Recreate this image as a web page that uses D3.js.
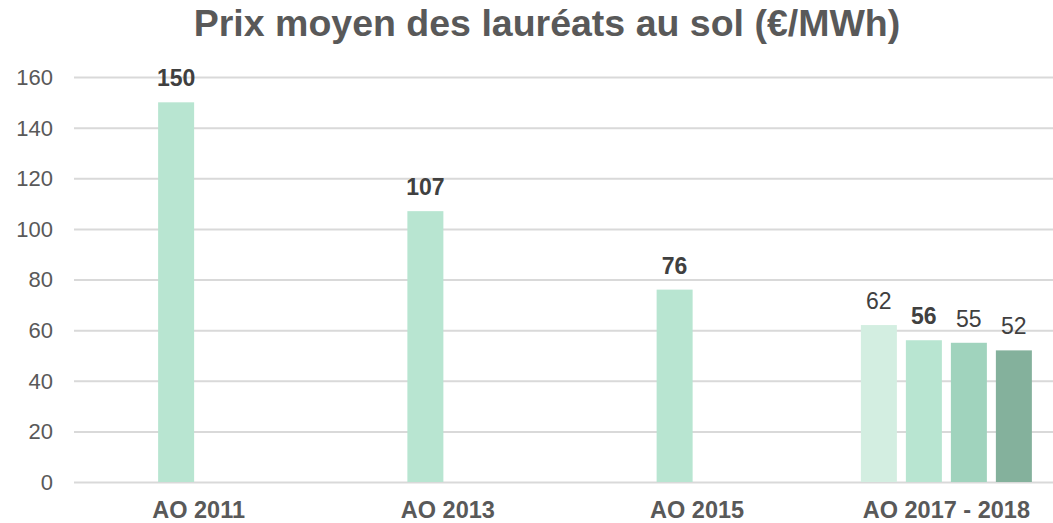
<!DOCTYPE html>
<meta charset="utf-8">
<style>
    body {
        margin: 0;
        background: #fff;
    }
    svg {
        display: block;
        overflow: hidden;
        font-family: "Liberation Sans", Arial, sans-serif;
    }
    .grid line {
        stroke: #d9d9d9;
        stroke-width: 2px;
    }
    .grid path {
        display: none;
    }
</style>
<body>
<script src="https://d3js.org/d3.v7.min.js"></script>
<script>
    const title = "Prix moyen des lauréats au sol (€/MWh)";

    const categories = ["AO 2011", "AO 2013", "AO 2015", "AO 2017 - 2018"];
    const seriesNames = ["s1", "s2", "s3", "s4"];

    // one value per category for each series (null = no bar)
    const s1 = [null, null, null, 62];
    const s2 = [150, 107, 76, 56];
    const s3 = [null, null, null, 55];
    const s4 = [null, null, null, 52];

    const seriesColors = ["#d3eee1", "#b8e5d1", "#a0d3bd", "#84b19c"];
    const seriesBold = [false, true, false, false];

    const yTicks = [0, 20, 40, 60, 80, 100, 120, 140, 160];

    const width = 1053,
        height = 523;

    const allSeries = [s1, s2, s3, s4];
    const bars = [];
    allSeries.forEach((vals, si) => {
        vals.forEach((v, ci) => {
            if (v !== null) bars.push({cat: categories[ci], s: seriesNames[si], si, value: v});
        });
    });

    const svg = d3.select("body")
        .append("svg")
        .attr("width", width)
        .attr("height", height);

    // plot area runs a bit past the right edge (cropped, like the original)
    const x0 = d3.scaleBand()
        .domain(categories)
        .range([74, 1071]);

    const x1 = d3.scaleBand()
        .domain(seriesNames)
        .range([0, 180])
        .paddingInner(0.2)
        .paddingOuter(0.1);

    const y = d3.scaleLinear()
        .domain([0, 160])
        .range([482, 77]);

    // gridlines
    svg.append("g")
        .attr("class", "grid")
        .attr("transform", "translate(74,0)")
        .call(d3.axisLeft(y).tickValues(yTicks).tickSize(-1000).tickFormat(""));

    // y tick labels
    svg.append("g")
        .selectAll("text")
        .data(yTicks)
        .join("text")
        .attr("x", 53)
        .attr("y", d => y(d))
        .attr("dy", "0.36em")
        .attr("text-anchor", "end")
        .attr("fill", "#595959")
        .style("font-size", "22px")
        .text(d => d);

    const groupX = d => x0(d.cat) + x0.bandwidth() / 2 - 90 + x1(d.s);

    svg.append("g")
        .selectAll("rect")
        .data(bars)
        .join("rect")
        .attr("x", groupX)
        .attr("width", x1.bandwidth())
        .attr("y", d => y(d.value))
        .attr("height", d => y(0) - y(d.value))
        .attr("fill", d => seriesColors[d.si]);

    // value labels
    svg.append("g")
        .selectAll("text")
        .data(bars)
        .join("text")
        .attr("x", d => groupX(d) + x1.bandwidth() / 2)
        .attr("y", d => y(d.value) - 16)
        .attr("text-anchor", "middle")
        .attr("fill", "#404040")
        .style("font-size", "23px")
        .style("font-weight", d => seriesBold[d.si] ? "bold" : "normal")
        .text(d => d.value);

    // category labels
    svg.append("g")
        .selectAll("text")
        .data(categories)
        .join("text")
        .attr("x", d => x0(d) + x0.bandwidth() / 2)
        .attr("y", 518)
        .attr("text-anchor", "middle")
        .attr("fill", "#595959")
        .style("font-size", "23.5px")
        .style("font-weight", "bold")
        .text(d => d);

    svg.append("text")
        .attr("x", 547)
        .attr("y", 36)
        .attr("text-anchor", "middle")
        .attr("fill", "#595959")
        .style("font-size", "37.5px")
        .style("font-weight", "bold")
        .text(title);
</script>
